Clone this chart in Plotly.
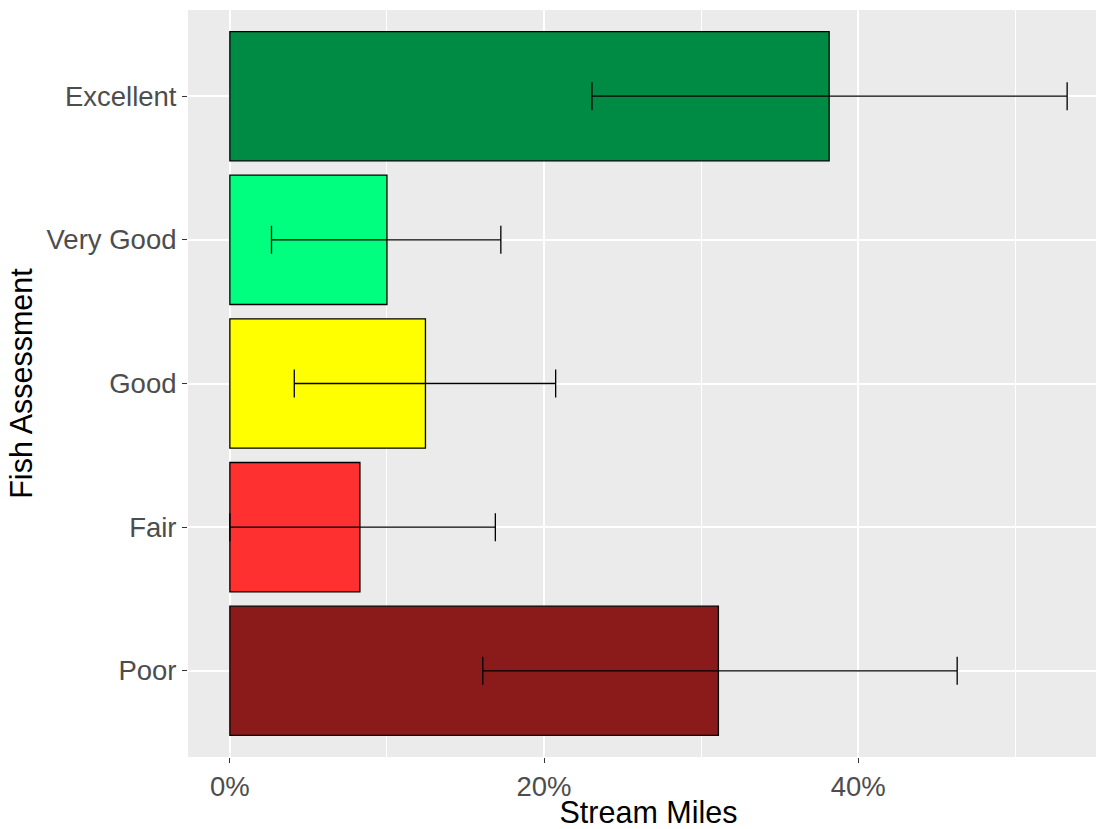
import plotly.graph_objects as go

categories = ["Excellent", "Very Good", "Good", "Fair", "Poor"]
values = [38.15, 10.0, 12.45, 8.28, 31.1]
lower = [23.05, 2.65, 4.1, 0.0, 16.1]
upper = [53.3, 17.25, 20.74, 16.9, 46.3]
colors = ["#008B45", "#00FF7F", "#FFFF00", "#FF3030", "#8B1A1A"]
x_ticks = [0, 20, 40]
x_tick_labels = ["0%", "20%", "40%"]
x_minor_ticks = [10, 30, 50]

err_plus = [u - v for u, v in zip(upper, values)]
err_minus = [v - l for v, l in zip(values, lower)]

FONT = "Liberation Sans, Arial, sans-serif"

fig = go.Figure()
fig.add_trace(go.Bar(
    y=categories,
    x=values,
    orientation="h",
    width=0.9,
    marker=dict(color=colors, line=dict(color="black", width=1.3)),
    error_x=dict(type="data", symmetric=False, array=err_plus, arrayminus=err_minus,
                 color="black", thickness=1.3, width=14),
    showlegend=False,
    hoverinfo="x+y",
))

fig.update_layout(
    width=1109, height=829,
    margin=dict(l=188, r=0, t=10, b=72),
    paper_bgcolor="white",
    plot_bgcolor="#EBEBEB",
    font=dict(family=FONT),
    xaxis=dict(
        range=[-2.665, 55.965],
        tickvals=x_ticks,
        ticktext=x_tick_labels,
        showgrid=True, gridcolor="white", gridwidth=1.5,
        minor=dict(tickvals=x_minor_ticks, showgrid=True, gridcolor="white", gridwidth=0.8, ticks=""),
        zeroline=False,
        ticks="outside", ticklen=5, tickcolor="#333333", tickwidth=1,
        tickfont=dict(size=27.5, color="#4D4D4D", family=FONT),
        title=dict(text="Stream Miles", font=dict(size=30.5, color="black", family=FONT), standoff=5),
        showline=False,
    ),
    yaxis=dict(
        categoryorder="array",
        categoryarray=categories[::-1],
        range=[-0.6, 4.6],
        showgrid=True, gridcolor="white", gridwidth=1.5,
        zeroline=False,
        ticks="outside", ticklen=5, tickcolor="#333333", tickwidth=1,
        tickfont=dict(size=27.5, color="#4D4D4D", family=FONT),
        title=dict(text="Fish Assessment", font=dict(size=30.5, color="black", family=FONT), standoff=4),
        showline=False,
    ),
)

fig.write_html("out.html", config={"displayModeBar": False},
               post_script="document.body.style.margin='0';document.body.style.overflow='hidden';")
